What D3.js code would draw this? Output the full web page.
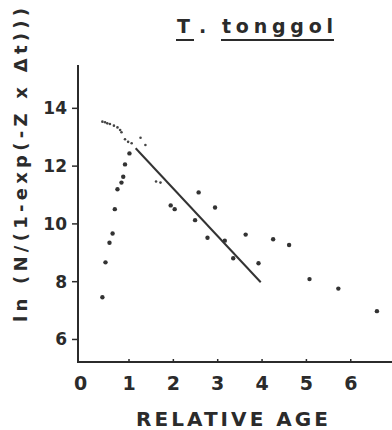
<!DOCTYPE html>
<html lang="en">
<head>
<meta charset="UTF-8">
<title>T. tonggol</title>
<script src="https://cdn.jsdelivr.net/npm/d3@7"></script>
<style>
  body { margin: 0; background: #fff; }
  svg text { font-family: "DejaVu Sans", sans-serif; font-weight: bold; fill: #2b2b2b; }
</style>
</head>
<body>
<svg id="chart" width="392" height="430"></svg>
<script>
// tick labels
const xTicks = [0, 1, 2, 3, 4, 5, 6];
const yTicks = [6, 8, 10, 12, 14];

// small dots (upper curve and a couple near age 1.7)
const smallAge = [0.40, 0.46, 0.51, 0.57, 0.66, 0.74, 0.80, 0.83, 0.91, 0.98, 1.06, 1.26, 1.37, 1.61, 1.71];
const smallVal = [13.54, 13.52, 13.48, 13.46, 13.40, 13.34, 13.25, 13.17, 12.93, 12.84, 12.79, 12.98, 12.73, 11.47, 11.43];

// large dots
const bigAge = [0.40, 0.47, 0.56, 0.63, 0.68, 0.74, 0.83, 0.87, 0.91, 1.01,
                1.94, 2.03, 2.57, 2.49, 2.77, 2.94, 3.16, 3.35, 3.63, 3.92,
                4.25, 4.61, 5.07, 5.72, 6.59];
const bigVal = [7.46, 8.67, 9.35, 9.67, 10.51, 11.20, 11.43, 11.63, 12.06, 12.44,
                10.64, 10.51, 11.09, 10.13, 9.52, 10.57, 9.42, 8.81, 9.63, 8.64,
                9.47, 9.27, 8.09, 7.76, 6.98];

// fitted regression line
const fitAge = [1.15, 3.97];
const fitVal = [12.62, 7.98];

const svg = d3.select('#chart');
const ink = '#2b2b2b';

const x = d3.scaleLinear().domain([-0.15, 6.93]).range([78, 392]);
const y = d3.scaleLinear().domain([5.22, 15.5]).range([362, 65]);

// axes lines
svg.append('line')
    .attr('x1', x(-0.15)).attr('x2', x(-0.15))
    .attr('y1', y(15.5)).attr('y2', y(5.22))
    .attr('stroke', ink).attr('stroke-width', 2);
svg.append('line')
    .attr('x1', x(-0.15) - 1).attr('x2', 392)
    .attr('y1', y(5.22)).attr('y2', y(5.22))
    .attr('stroke', ink).attr('stroke-width', 2.2);

// y ticks
yTicks.forEach(t => {
    svg.append('line')
        .attr('x1', x(-0.15) - 6).attr('x2', x(-0.15))
        .attr('y1', y(t)).attr('y2', y(t))
        .attr('stroke', ink).attr('stroke-width', 1.5);
    svg.append('text')
        .attr('x', 67).attr('y', y(t) + 6)
        .attr('text-anchor', 'end')
        .attr('font-size', '17px')
        .text(t);
});

// x ticks
xTicks.forEach(t => {
    if (t > 0) {
        svg.append('line')
            .attr('x1', x(t)).attr('x2', x(t))
            .attr('y1', y(5.22) - 3).attr('y2', y(5.22))
            .attr('stroke', ink).attr('stroke-width', 1.5);
    }
    svg.append('text')
        .attr('x', t === 0 ? x(t) - 4 : x(t)).attr('y', 390)
        .attr('text-anchor', 'middle')
        .attr('font-size', '19px')
        .text(t);
});

// fitted line
svg.append('line')
    .attr('x1', x(fitAge[0])).attr('y1', y(fitVal[0]))
    .attr('x2', x(fitAge[1])).attr('y2', y(fitVal[1]))
    .attr('stroke', '#333').attr('stroke-width', 2);

// points
svg.selectAll('circle.small')
    .data(smallAge)
    .join('circle')
    .attr('class', 'small')
    .attr('cx', (d, i) => x(d))
    .attr('cy', (d, i) => y(smallVal[i]))
    .attr('r', 1.3)
    .attr('fill', '#444');

svg.selectAll('circle.big')
    .data(bigAge)
    .join('circle')
    .attr('class', 'big')
    .attr('cx', (d, i) => x(d))
    .attr('cy', (d, i) => y(bigVal[i]))
    .attr('r', 2.2)
    .attr('fill', '#333');

// title, underlined parts
const title = svg.append('g');
title.append('text').attr('x', 177).attr('y', 33).attr('font-size', '19px')
    .attr('textLength', 16).text('T');
title.append('text').attr('x', 199).attr('y', 33).attr('font-size', '19px').text('.');
title.append('text').attr('x', 222).attr('y', 33).attr('font-size', '19px')
    .attr('textLength', 111).attr('lengthAdjust', 'spacing').text('tonggol');
title.append('line').attr('x1', 176).attr('x2', 194).attr('y1', 40).attr('y2', 40)
    .attr('stroke', ink).attr('stroke-width', 2);
title.append('line').attr('x1', 221).attr('x2', 334).attr('y1', 40).attr('y2', 40)
    .attr('stroke', ink).attr('stroke-width', 2);

// axis titles
svg.append('text')
    .attr('transform', 'translate(27,165) rotate(-90)')
    .attr('text-anchor', 'middle')
    .attr('font-size', '18px')
    .attr('textLength', 314).attr('lengthAdjust', 'spacing')
    .text('ln (N/(1-exp(-Z x Δt)))');

svg.append('text')
    .attr('x', 232).attr('y', 426)
    .attr('text-anchor', 'middle')
    .attr('font-size', '20px')
    .attr('textLength', 192).attr('lengthAdjust', 'spacing')
    .text('RELATIVE AGE');
</script>
</body>
</html>
